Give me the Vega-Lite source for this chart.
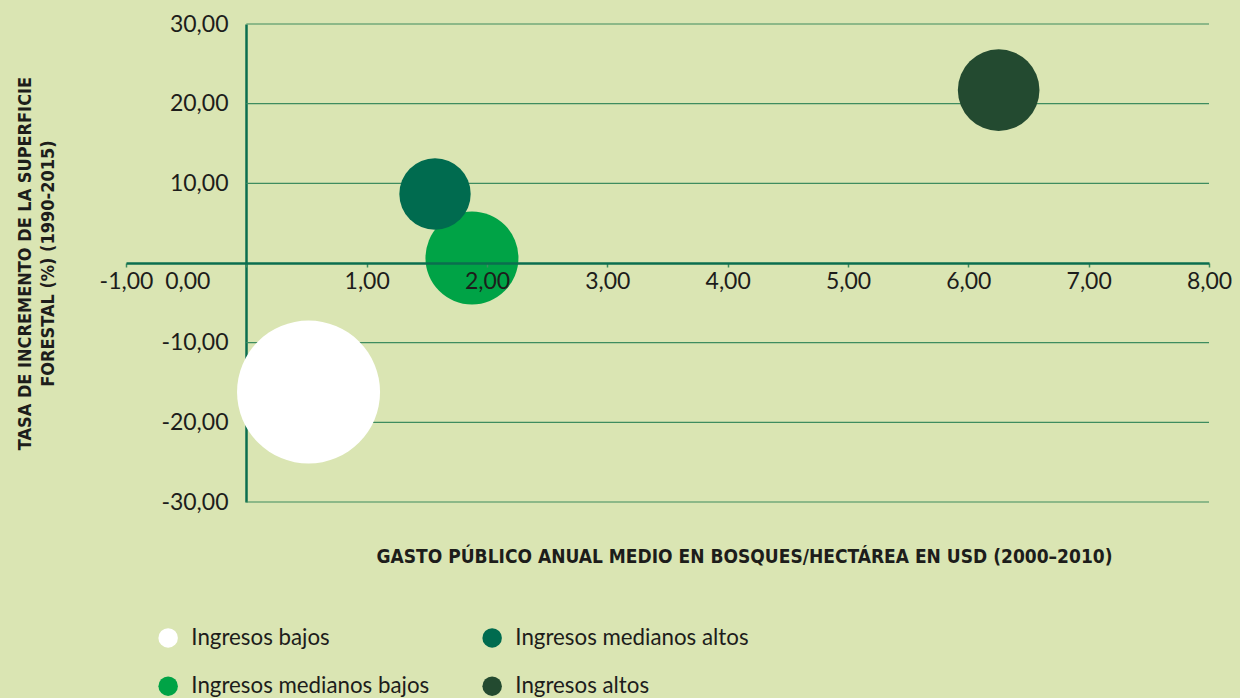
{
  "$schema": "https://vega.github.io/schema/vega-lite/v6.json",
  "width": 1083,
  "height": 478,
  "autosize": "none",
  "padding": {"left": 126, "top": 24, "right": 31, "bottom": 196},
  "background": "#dae5b3",
  "config": {
    "view": {"stroke": null},
    "font": "Lato"
  },
  "layer": [
    {
      "data": {"values": [{"g": -30}, {"g": -20}, {"g": -10}, {"g": 10}, {"g": 20}, {"g": 30}]},
      "mark": {"type": "rule", "color": "#3e8c5f", "strokeWidth": 1.2},
      "encoding": {
        "y": {"field": "g", "type": "quantitative", "scale": {"domain": [-30, 30], "nice": false, "zero": false}},
        "x": {"datum": 0, "type": "quantitative"},
        "x2": {"datum": 8}
      }
    },
    {
      "data": {"values": [
        {"grupo": "Ingresos bajos", "gasto": 0.517, "tasa": -16.2, "tam": 100},
        {"grupo": "Ingresos medianos bajos", "gasto": 1.875, "tasa": 0.63, "tam": 42.3},
        {"grupo": "Ingresos medianos altos", "gasto": 1.568, "tasa": 8.66, "tam": 24.9},
        {"grupo": "Ingresos altos", "gasto": 6.252, "tasa": 21.7, "tam": 32.6}
      ]},
      "mark": {"type": "circle", "opacity": 1, "strokeWidth": 0},
      "encoding": {
        "x": {
          "field": "gasto", "type": "quantitative",
          "scale": {"domain": [-1, 8], "nice": false, "zero": false},
          "axis": {
            "orient": "bottom", "offset": -239, "zindex": 1,
            "values": [-1, 0, 1, 2, 3, 4, 5, 6, 7, 8],
            "labelExpr": "replace(replace(format(datum.value, '.2f'), '.', ','), '\u2212', '-')",
            "labelOffset": {"condition": {"test": "datum.value == 0", "value": -59}, "value": 0},
            "labelFontSize": 23, "labelColor": "#1d1d1b", "labelPadding": 3, "labelFlush": false,
            "labelOverlap": false,
            "domainColor": "#0b6e4f", "domainWidth": 2.5,
            "tickColor": "#3e8c5f", "tickSize": 4, "tickWidth": 1.5,
            "grid": false,
            "title": "GASTO PÚBLICO ANUAL MEDIO EN BOSQUES/HECTÁREA EN USD (2000–2010)",
            "titleFont": "DejaVu Sans Condensed",
            "titleFontSize": 19, "titleFontWeight": "bold", "titleColor": "#1d1d1b",
            "titleX": 618, "titleY": 299, "titleAlign": "center", "titleBaseline": "alphabetic"
          }
        },
        "y": {
          "field": "tasa", "type": "quantitative",
          "scale": {"domain": [-30, 30], "nice": false, "zero": false},
          "axis": {
            "orient": "left", "offset": -120,
            "values": [-30, -20, -10, 0, 10, 20, 30],
            "labelExpr": "datum.value == 0 ? '' : replace(replace(format(datum.value, '.2f'), '.', ','), '\u2212', '-')",
            "labelFontSize": 23, "labelColor": "#1d1d1b", "labelPadding": 18,
            "ticks": false, "grid": false,
            "domainColor": "#0b6e4f", "domainWidth": 2.5,
            "title": ["TASA DE INCREMENTO DE LA SUPERFICIE", "FORESTAL (%) (1990-2015)"],
            "titleFont": "DejaVu Sans Condensed",
            "titleFontSize": 18, "titleFontWeight": "bold", "titleColor": "#1d1d1b",
            "titleAngle": -90, "titleX": -216, "titleY": 239, "titleAlign": "center",
            "titleBaseline": "alphabetic", "titleLineHeight": 23
          }
        },
        "size": {
          "field": "tam", "type": "quantitative",
          "scale": {"domain": [0, 100], "range": [0, 20449], "zero": true},
          "legend": null
        },
        "color": {
          "field": "grupo", "type": "nominal",
          "scale": {
            "domain": ["Ingresos bajos", "Ingresos medianos bajos", "Ingresos medianos altos", "Ingresos altos"],
            "range": ["#ffffff", "#00a346", "#006b4f", "#234a30"]
          },
          "legend": {
            "orient": "none", "legendX": 31, "legendY": 602.5,
            "columns": 2, "title": null,
            "symbolType": "circle", "symbolSize": 380, "symbolStrokeWidth": 0, "symbolOpacity": 1,
            "labelFontSize": 22.3, "labelColor": "#1d1d1b", "labelOffset": 12,
            "rowPadding": 25.5, "columnPadding": 51, "labelLimit": 400
          }
        }
      }
    }
  ]
}
